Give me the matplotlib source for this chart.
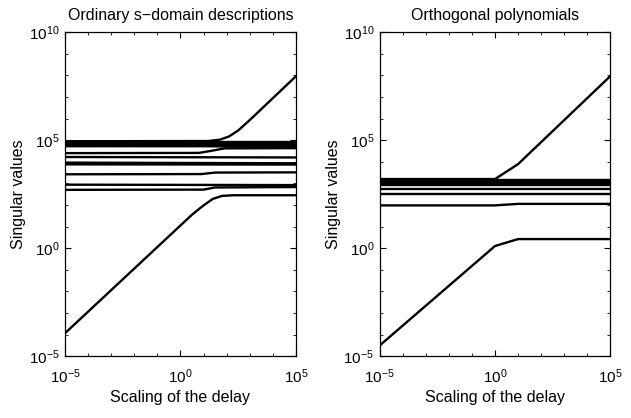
import numpy as np
import matplotlib
matplotlib.use("Agg")
import matplotlib.pyplot as plt
from matplotlib.ticker import LogLocator, NullFormatter

plt.rcParams['font.family'] = ['Liberation Sans', 'DejaVu Sans']
plt.rcParams['mathtext.fontset'] = 'custom'
plt.rcParams['mathtext.rm'] = 'Liberation Sans'
plt.rcParams['mathtext.it'] = 'Liberation Sans'

titles = ["Ordinary s\u2212domain descriptions", "Orthogonal polynomials"]
xlabel = "Scaling of the delay"
ylabel = "Singular values"

# Curves given as (log10 x, log10 singular value) pairs
left_curves = [
    ([-5, 1.2, 1.7, 2.1, 2.5, 3.0, 5], [4.95, 4.96, 5.02, 5.17, 5.45, 5.93, 7.96]),
    ([-5, 5], [4.90, 4.90]),
    ([-5, 5], [4.84, 4.84]),
    ([-5, 1.4, 5], [4.78, 4.78, 4.76]),
    ([-5, 1.2, 5], [4.72, 4.72, 4.68]),
    ([-5, 0.8, 1.3, 1.9, 5], [4.40, 4.41, 4.50, 4.62, 4.63]),
    ([-5, 5], [4.22, 4.20]),
    ([-5, 5], [3.96, 3.93]),
    ([-5, 5], [3.88, 3.87]),
    ([-5, 0.9, 1.5, 5], [3.42, 3.43, 3.50, 3.51]),
    ([-5, 5], [2.94, 2.92]),
    ([-5, 1.0, 1.5, 5], [2.70, 2.71, 2.81, 2.83]),
    ([-5, 0.5, 1.0, 1.4, 1.8, 2.3, 5], [-3.94, 1.55, 1.98, 2.28, 2.42, 2.45, 2.45]),
]

right_curves = [
    ([-5, 0, 1.0, 5], [3.20, 3.20, 3.89, 7.96]),
    ([-5, 5], [3.14, 3.14]),
    ([-5, 5], [3.07, 3.07]),
    ([-5, 5], [3.00, 3.00]),
    ([-5, 5], [2.94, 2.94]),
    ([-5, 5], [2.74, 2.74]),
    ([-5, 5], [2.52, 2.52]),
    ([-5, 0, 1.0, 5], [1.98, 1.98, 2.05, 2.05]),
    ([-5, 0, 1.0, 5], [-4.50, 0.10, 0.42, 0.42]),
]

xlim_exp = (-5, 5)
ylim_exp = (-5, 10)
xticks_exp = [-5, 0, 5]
yticks_exp = [-5, 0, 5, 10]

fig = plt.figure(figsize=(6.31, 4.18), dpi=100)
positions = [[0.103, 0.148, 0.366, 0.775], [0.602, 0.148, 0.365, 0.775]]

for pos, title, curves in zip(positions, titles, [left_curves, right_curves]):
    ax = fig.add_axes(pos)
    for xe, ye in curves:
        ax.plot(10.0 ** np.array(xe), 10.0 ** np.array(ye), color='black', lw=1.7,
                solid_joinstyle='round')
    ax.set_xscale('log')
    ax.set_yscale('log')
    ax.set_xlim(10.0 ** xlim_exp[0], 10.0 ** xlim_exp[1])
    ax.set_ylim(10.0 ** ylim_exp[0], 10.0 ** ylim_exp[1])
    ax.set_xticks([10.0 ** e for e in xticks_exp])
    ax.set_xticklabels([r'$10^{%d}$' % e for e in xticks_exp])
    ax.set_yticks([10.0 ** e for e in yticks_exp])
    ax.set_yticklabels([r'$10^{%d}$' % e for e in yticks_exp])
    ax.xaxis.set_minor_locator(LogLocator(base=10, subs=(1.0,), numticks=30))
    ax.yaxis.set_minor_locator(LogLocator(base=10, subs=(1.0,), numticks=30))
    ax.xaxis.set_minor_formatter(NullFormatter())
    ax.yaxis.set_minor_formatter(NullFormatter())
    ax.tick_params(which='both', direction='in', top=True, right=True, labelsize=11)
    ax.tick_params(which='major', length=4, width=0.8)
    ax.tick_params(which='minor', length=2, width=0.6)
    ax.tick_params(axis='x', which='major', pad=8)
    ax.tick_params(axis='y', which='major', pad=4)
    ax.set_title(title, fontsize=11.5, pad=9)
    ax.set_xlabel(xlabel, fontsize=11.5, labelpad=3)
    ax.set_ylabel(ylabel, fontsize=11.5, labelpad=2)
    for s in ax.spines.values():
        s.set_linewidth(0.9)

fig.savefig('out.png', dpi=100)
